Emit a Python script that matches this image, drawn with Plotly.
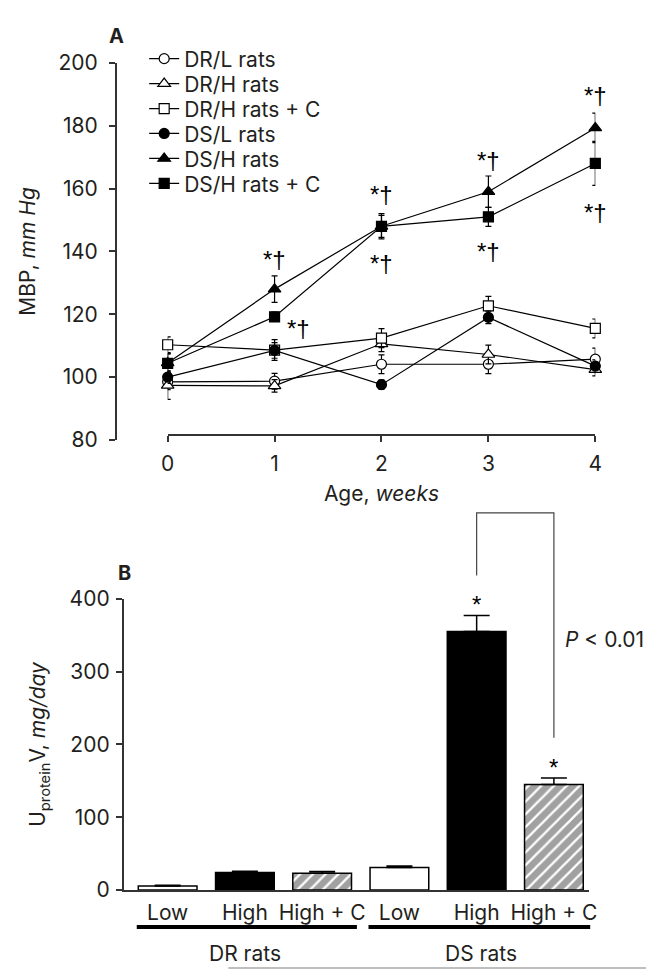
import plotly.graph_objects as go

W, H = 654, 973
FONT = "Inter, Liberation Sans, Arial, sans-serif"
SYMFONT = "Liberation Sans, Arial, sans-serif"
FS = 21
TXT = "#231f20"
AX = "#333333"

# ---------------- Panel A data ----------------
weeks = [0, 1, 2, 3, 4]
series_names = ["DR/L rats", "DR/H rats", "DR/H rats + C", "DS/L rats", "DS/H rats", "DS/H rats + C"]
dr_l = [98.5, 98.7, 104.1, 104.1, 105.7]
dr_l_se = [2.5, 2.5, 3.0, 3.0, 3.5]
dr_h = [97.4, 97.2, 110.6, 107.2, 102.4]
dr_h_se = [4.5, 2.0, 2.5, 3.0, 2.0]
dr_hc = [110.3, 108.6, 112.4, 122.7, 115.5]
dr_hc_se = [2.5, 3.3, 3.0, 3.0, 3.0]
ds_l = [100.0, 108.5, 97.6, 119.0, 103.5]
ds_l_se = [2.0, 2.5, 1.5, 2.0, 2.0]
ds_h = [104.5, 128.0, 148.0, 159.0, 179.3]
ds_h_se = [3.0, 4.2, 3.5, 5.0, 4.7]
ds_hc = [104.4, 119.2, 148.0, 151.0, 168.0]
ds_hc_se = [3.0, 1.5, 4.0, 3.0, 7.0]

a_yticks = [80, 100, 120, 140, 160, 180, 200]

# significance marks (*†) for panel A: (week, MBP level)
sig_a_x = [1, 1.22, 2, 2, 3, 3, 4, 4]
sig_a_y = [137.3, 115.5, 158.0, 136.0, 169.0, 140.0, 189.5, 152.5]

# ---------------- Panel B data ----------------
categories = ["Low", "High", "High + C", "Low", "High", "High + C"]
groups = ["DR rats", "DS rats"]
uprot = [5.5, 24.0, 23.0, 31.0, 355.0, 145.0]
uprot_se = [1.0, 2.0, 2.5, 2.0, 22.0, 9.0]
bar_colors = ["white", "black", "white", "white", "black", "white"]
bar_patterns = ["", "", "/", "", "", "/"]
b_yticks = [0, 100, 200, 300, 400]
bracket_top = 518
bracket_left_bottom = 432
bracket_right_bottom = 209
star_b_x = [4, 5]
star_b_y = [392, 168.5]

# ---------------- geometry ----------------
xa_dom = [156 / W, 593 / W]
ya_dom = [1 - 430 / H, 1 - 43 / H]
xb_dom = [111 / W, 587 / W]
yb_dom = [1 - 892 / H, 1 - 593 / H]
xb_rng = [-0.57, 5.46]
yb_rng = [0, 400]


def bx(c):
    return xb_dom[0] + (c - xb_rng[0]) / (xb_rng[1] - xb_rng[0]) * (xb_dom[1] - xb_dom[0])


def by(v):
    return yb_dom[0] + (v - yb_rng[0]) / (yb_rng[1] - yb_rng[0]) * (yb_dom[1] - yb_dom[0])


fig = go.Figure()

styles = [
    ("circle", "white"),
    ("triangle-up", "white"),
    ("square", "white"),
    ("circle", "black"),
    ("triangle-up", "black"),
    ("square", "black"),
]
vals = [dr_l, dr_h, dr_hc, ds_l, ds_h, ds_hc]
ses = [dr_l_se, dr_h_se, dr_hc_se, ds_l_se, ds_h_se, ds_hc_se]
legend_ids = ["legend", "legend2", "legend3", "legend4", "legend5", "legend6"]

for name, (sym, fill), v, se, lid in zip(series_names, styles, vals, ses, legend_ids):
    fig.add_trace(go.Scatter(
        x=weeks, y=v, name=name, mode="lines+markers", legend=lid,
        line=dict(color="black", width=1.2),
        marker=dict(symbol=sym, size=10 if sym != "triangle-up" else 11, color=fill,
                    line=dict(color="black", width=1.2)),
        error_y=dict(type="data", array=se, color="black", thickness=1.2, width=3),
        cliponaxis=False, xaxis="x", yaxis="y",
    ))

fig.add_trace(go.Bar(
    x=list(range(len(categories))), y=uprot, width=0.76,
    marker=dict(color=bar_colors, line=dict(color="black", width=1.5),
                pattern=dict(shape=bar_patterns, fgcolor="black", size=9, solidity=0.75)),
    error_y=dict(type="data", array=uprot_se, arrayminus=[0] * len(uprot), symmetric=False,
                 color="black", thickness=1.5, width=13),
    showlegend=False, xaxis="x2", yaxis="y2",
))

axis_common = dict(showline=True, linecolor=AX, linewidth=1.5, ticks="outside",
                   ticklen=6, tickwidth=1.5, tickcolor=AX, showgrid=False, zeroline=False,
                   tickfont=dict(family=FONT, size=FS, color=TXT))

legend_layout = {}
for i, lid in enumerate(legend_ids):
    legend_layout[lid] = dict(x=132 / W, y=1 - (39 + i * 25.6) / H, xanchor="left",
                              yanchor="middle", bgcolor="rgba(0,0,0,0)",
                              font=dict(family=FONT, size=FS, color=TXT))

fig.update_layout(
    width=W, height=H, margin=dict(l=0, r=0, t=0, b=0),
    paper_bgcolor="white", plot_bgcolor="white",
    font=dict(family=FONT, size=FS, color=TXT),
    showlegend=True,
    xaxis=dict(domain=xa_dom, range=[0, 4], anchor="free", position=1 - 425 / H,
               tickvals=weeks, ticklabelstandoff=4,
               title=dict(text="Age, <i>weeks</i>", standoff=10,
                          font=dict(family=FONT, size=FS, color=TXT)),
               **axis_common),
    yaxis=dict(domain=ya_dom, range=[80, 200], anchor="free", position=103 / W,
               tickvals=a_yticks, ticklabelstandoff=7,
               title=dict(text="MBP, <i>mm Hg</i>", standoff=16,
                          font=dict(family=FONT, size=FS, color=TXT)),
               **axis_common),
    xaxis2=dict(domain=xb_dom, range=xb_rng, anchor="y2", showline=True, linecolor=AX,
                linewidth=1.5, ticks="", showgrid=False, zeroline=False,
                tickvals=list(range(len(categories))), ticktext=categories,
                ticklabelstandoff=3,
                tickfont=dict(family=FONT, size=FS, color=TXT)),
    yaxis2=dict(domain=yb_dom, range=yb_rng, anchor="x2", tickvals=b_yticks,
                ticklabelstandoff=2,
                title=dict(text="U<sub>protein</sub>V, <i>mg/day</i>", standoff=18,
                           font=dict(family=FONT, size=FS, color=TXT)),
                **axis_common),
    **legend_layout,
)

C = dict(xanchor="center", yanchor="middle", showarrow=False)
ann = []
for sx, sy in zip(sig_a_x, sig_a_y):
    ann.append(dict(x=sx, y=sy, xref="x", yref="y", text="*†",
                    font=dict(family=SYMFONT, size=24, color="black"), **C))
for sx, sy in zip(star_b_x, star_b_y):
    ann.append(dict(x=sx, y=sy, xref="x2", yref="y2", text="*",
                    font=dict(family=SYMFONT, size=24, color="black"), **C))
ann.append(dict(x=104 / W, y=1 - 15 / H, xref="paper", yref="paper", text="<b>A</b>",
                font=dict(family=FONT, size=20, color=TXT), **C))
ann.append(dict(x=112 / W, y=1 - 567 / H, xref="paper", yref="paper", text="<b>B</b>",
                font=dict(family=FONT, size=20, color=TXT), **C))
ann.append(dict(x=bx(5) + 9 / W, y=by(344), xref="paper", yref="paper",
                text="<i>P</i> < 0.01", showarrow=False, xanchor="left", yanchor="middle",
                font=dict(family=FONT, size=FS, color=TXT)))
ann.append(dict(x=bx(1), y=1 - 957 / H, xref="paper", yref="paper", text=groups[0],
                font=dict(family=FONT, size=FS, color=TXT), **C))
ann.append(dict(x=bx(4.05), y=1 - 957 / H, xref="paper", yref="paper", text=groups[1],
                font=dict(family=FONT, size=FS, color=TXT), **C))
fig.update_layout(annotations=ann)

shapes = []
# bracket between DS High and DS High + C
shapes.append(dict(type="path", xref="paper", yref="paper",
                   path=f"M{bx(4)},{by(bracket_left_bottom)} L{bx(4)},{by(bracket_top)} "
                        f"L{bx(5)},{by(bracket_top)} L{bx(5)},{by(bracket_right_bottom)}",
                   line=dict(color="#444444", width=1.2)))
# group underlines
gy = 1 - 930 / H
shapes.append(dict(type="line", xref="paper", yref="paper", x0=bx(-0.4), x1=bx(2.45),
                   y0=gy, y1=gy, line=dict(color="black", width=4)))
shapes.append(dict(type="line", xref="paper", yref="paper", x0=bx(2.6), x1=bx(5.47),
                   y0=gy, y1=gy, line=dict(color="black", width=4)))
# thin grey rule at the bottom of the original figure
shapes.append(dict(type="line", xref="paper", yref="paper", x0=218 / W, x1=1,
                   y0=1 - 972 / H, y1=1 - 972 / H, line=dict(color="#aaaaaa", width=1.5)))
fig.update_layout(shapes=shapes)

fig.write_html("out.html")
